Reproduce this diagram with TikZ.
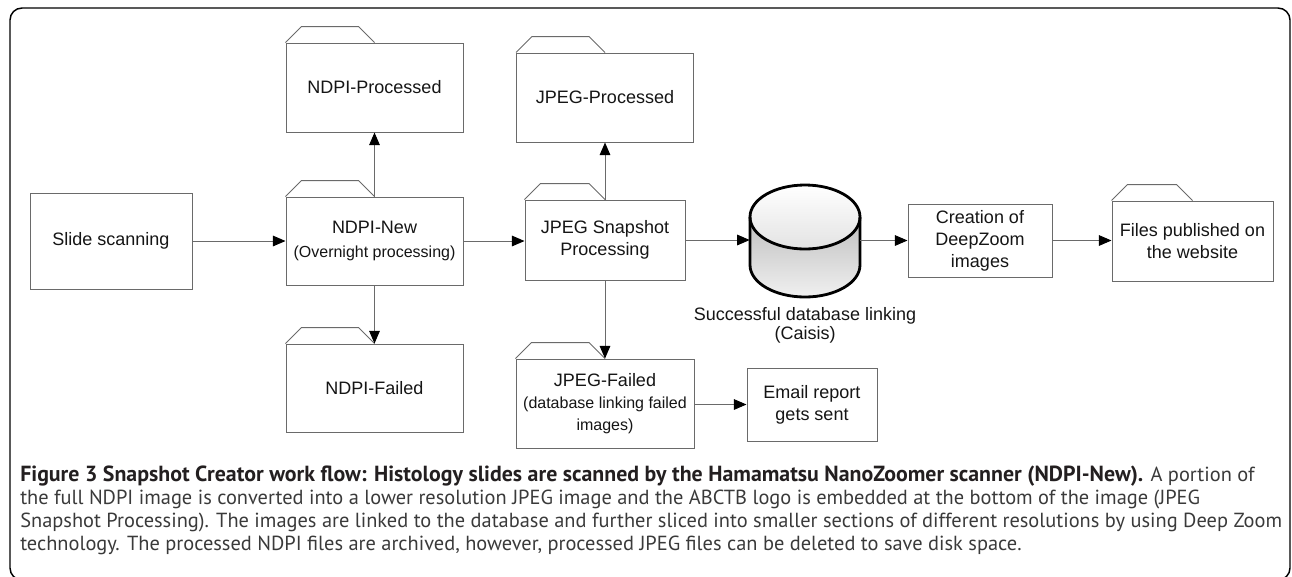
\documentclass[tikz,border=0pt]{standalone}
\usepackage{fontspec}
\setmainfont{Liberation Sans}
\newfontfamily\capfont{PT Sans}
\usetikzlibrary{arrows.meta,calc}

\definecolor{linegray}{HTML}{6A6A6A}
\definecolor{txt}{HTML}{151515}
\definecolor{captxt}{HTML}{3A3A3A}
\definecolor{captitle}{HTML}{231F20}

% tab on top of a folder-shaped node: rises from the left corner, ends at the top centre
\newcommand{\foldertab}[1]{%
  \draw[linegray, line width=0.75pt, line join=miter]
    (#1.north west) -- ++(16,-16) -- ([shift={(-16,-16)}]#1.north) -- (#1.north);}
% type sizes of the caption: running text and bold title
\newcommand{\capsize}{\fontsize{15.3pt}{18pt}\selectfont}
\newcommand{\captitlesize}{\fontsize{16.4pt}{18pt}\selectfont}

\begin{document}
\begin{tikzpicture}[x=0.75pt, y=-0.75pt,
  box/.style={draw=linegray, line width=0.75pt, fill=white, inner sep=0pt,
    align=center, text=txt, font=\fontsize{13.5}{16.5}\selectfont},
  sz/.style 2 args={minimum width=#1*0.75pt, minimum height=#2*0.75pt},
  arr/.style={draw=linegray, line width=0.75pt,
    -{Triangle[length=9.5pt,width=8pt,color=black]}},
  capline/.style={anchor=base west, inner sep=0pt, text=captxt,
    font={\capfont\capsize}}]

% page and outer frame
\useasboundingbox (0,0) rectangle (1292,576);
\draw[black, line width=1.1pt, rounded corners=9pt] (10,8) rectangle (1290,580);

% process steps and folders
\node[box, sz={162}{96}] (slide) at (111,241) {Slide scanning};
\node[box, sz={177}{89}] (nproc) at (374.5,87.5) {NDPI-Processed};
\node[box, sz={177}{88}] (nnew) at (374.5,241)
  {NDPI-New\\[1pt]{\fontsize{12}{14}\selectfont (Overnight processing)}};
\node[box, sz={177}{88}] (nfail) at (374.5,388) {NDPI-Failed};
\node[box, sz={177}{89}] (jproc) at (605,97.5) {JPEG-Processed};
\node[box, sz={160}{80}] (snap) at (605,240) {JPEG Snapshot\\Processing};
\node[box, sz={178}{89}] (jfail) at (605,403.5)
  {JPEG-Failed\\{\fontsize{12}{15.75}\selectfont (database linking failed}\\{\fontsize{12}{15.75}\selectfont images)}};
\node[box, sz={130}{73}] (email) at (812,404.5) {Email report\\gets sent};
\node[box, sz={144}{73}] (creat) at (980,240.5) {Creation of\\DeepZoom\\images};
\node[box, sz={161}{80}] (files) at (1192.5,241) {Files published on\\the website};

\foreach \f in {nproc,nnew,nfail,jproc,snap,jfail,files} {\foldertab{\f}}

% database cylinder
\node[sz={110}{112}, inner sep=0pt] (db) at (805,241) {};
\path[top color=gray!50, bottom color=gray!12]
  (750,217) -- (750,265) arc[start angle=180, end angle=360, x radius=41.25pt, y radius=24pt]
  -- (860,217) -- cycle;
\path[top color=white, bottom color=gray!22] (805,217) ellipse [x radius=41.25pt, y radius=24pt];
\draw[black, line width=2.1pt]
  (750,217) -- (750,265) arc[start angle=180, end angle=360, x radius=41.25pt, y radius=24pt]
  -- (860,217);
\draw[black, line width=2.1pt] (805,217) ellipse [x radius=41.25pt, y radius=24pt];
\node[align=center, text=txt, inner sep=0pt, font=\fontsize{13.5}{14.5}\selectfont] (dblabel)
  at (805,325) {Successful database linking\\(Caisis)};

% connectors
\draw[arr] (slide.east) -- (slide.east -| nnew.west);
\draw[arr] (nnew.north) -- (nproc.south);
\draw[arr] (nnew.south) -- (nfail.north);
\draw[arr] (nnew.east) -- (nnew.east -| snap.west);
\draw[arr] (snap.north) -- (jproc.south);
\draw[arr] (snap.south) -- (jfail.north);
\draw[arr] (snap.east) -- (snap.east -| db.west);
\draw[arr] (db.east |- creat.west) -- (creat.west);
\draw[arr] (creat.east) -- (creat.east -| files.west);
\draw[arr] (jfail.east |- email.west) -- (email.west);

% figure caption
\node[capline] (cap1) at (20,481) {{\captitlesize\bfseries\color{captitle}Figure 3 Snapshot Creator work flow: Histology slides are scanned by the Hamamatsu NanoZoomer scanner (NDPI-New).} A portion of};
\node[capline] (cap2) at (20,504) {the full NDPI image is converted into a lower resolution JPEG image and the ABCTB logo is embedded at the bottom of the image (JPEG};
\node[capline] (cap3) at (20,527) {Snapshot Processing). The images are linked to the database and further sliced into smaller sections of different resolutions by using Deep Zoom};
\node[capline] (cap4) at (20,550) {technology. The processed NDPI files are archived, however, processed JPEG files can be deleted to save disk space.};
\end{tikzpicture}
\end{document}
